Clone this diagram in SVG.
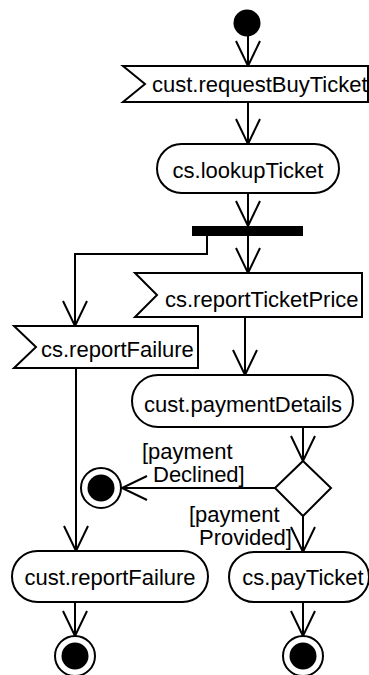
<svg xmlns="http://www.w3.org/2000/svg" width="369" height="675" viewBox="0 0 369 675">
  <style>
    .shape { fill: #ffffff; stroke: #000000; stroke-width: 2; }
    .solid { fill: #000000; stroke: none; }
    .label { font-family: "Liberation Sans", Arial, sans-serif; font-size: 22px; fill: #000000; }
    .mid { text-anchor: middle; }
    .flow { fill: none; stroke: #000000; stroke-width: 2; marker-end: url(#open); }
  </style>
  <defs>
    <marker id="open" markerUnits="userSpaceOnUse" markerWidth="30" markerHeight="30" viewBox="-27 -14 30 28" refX="0" refY="0" orient="auto">
      <path d="M-25,-12 L0,0 L-25,12" fill="none" stroke="#000000" stroke-width="2"/>
    </marker>
  </defs>

  <!-- control flows -->
  <g id="connectors">
    <path class="flow" d="M248,36 L248,66"/>
    <path class="flow" d="M248,102 L248,144"/>
    <path class="flow" d="M248,193 L248,226"/>
    <path class="flow" d="M248,236 L248,273"/>
    <path class="flow" d="M207,236 L207,254 L75,254 L75,326"/>
    <path class="flow" d="M245,317 L245,375"/>
    <path class="flow" d="M303,427 L303,461"/>
    <path class="flow" d="M275,488 L122,488"/>
    <path class="flow" d="M303,516 L303,552"/>
    <path class="flow" d="M76,368 L76,551"/>
    <path class="flow" d="M75,602 L75,636"/>
    <path class="flow" d="M303,602 L303,636"/>
    <!-- guards -->
    <text class="label"><tspan x="142" y="459">[payment</tspan><tspan x="153" y="482">Declined]</tspan></text>
    <text class="label"><tspan x="189" y="522">[payment</tspan><tspan x="199" y="545">Provided]</tspan></text>
  </g>

  <g id="start">
    <circle class="solid" cx="247" cy="23" r="13.5"/>
  </g>

  <g id="requestBuyTicket">
    <polygon class="shape" points="123,66 368,66 368,102 123,102 145,84"/>
    <text class="label" x="152" y="92">cust.requestBuyTicket</text>
  </g>

  <g id="lookupTicket">
    <rect class="shape" x="157" y="144" width="182" height="49" rx="24.5"/>
    <text class="label mid" x="248" y="178">cs.lookupTicket</text>
  </g>

  <g id="fork">
    <rect class="solid" x="192" y="226" width="111" height="10"/>
  </g>

  <g id="reportTicketPrice">
    <polygon class="shape" points="135,273 362,273 362,317 135,317 157,295"/>
    <text class="label" x="165" y="307">cs.reportTicketPrice</text>
  </g>

  <g id="reportFailureSignal">
    <polygon class="shape" points="14,326 198,326 198,368 14,368 36,347"/>
    <text class="label" x="41" y="357">cs.reportFailure</text>
  </g>

  <g id="paymentDetails">
    <rect class="shape" x="132" y="375" width="221" height="52" rx="26"/>
    <text class="label mid" x="243" y="412">cust.paymentDetails</text>
  </g>

  <g id="decision">
    <polygon class="shape" points="303,461 331,488 303,516 275,488"/>
  </g>

  <g id="declinedEnd">
    <circle class="shape" cx="101" cy="488" r="20"/>
    <circle class="solid" cx="101" cy="488" r="13.5"/>
  </g>

  <g id="reportFailureAction">
    <rect class="shape" x="12" y="551" width="196" height="51" rx="25.5"/>
    <text class="label mid" x="110" y="585">cust.reportFailure</text>
  </g>

  <g id="payTicket">
    <rect class="shape" x="229" y="552" width="140" height="50" rx="25"/>
    <text class="label mid" x="303" y="585">cs.payTicket</text>
  </g>

  <g id="failureEnd">
    <circle class="shape" cx="75" cy="656" r="20"/>
    <circle class="solid" cx="75" cy="656" r="13.5"/>
  </g>

  <g id="paidEnd">
    <circle class="shape" cx="303" cy="656" r="20"/>
    <circle class="solid" cx="303" cy="656" r="13.5"/>
  </g>
</svg>
